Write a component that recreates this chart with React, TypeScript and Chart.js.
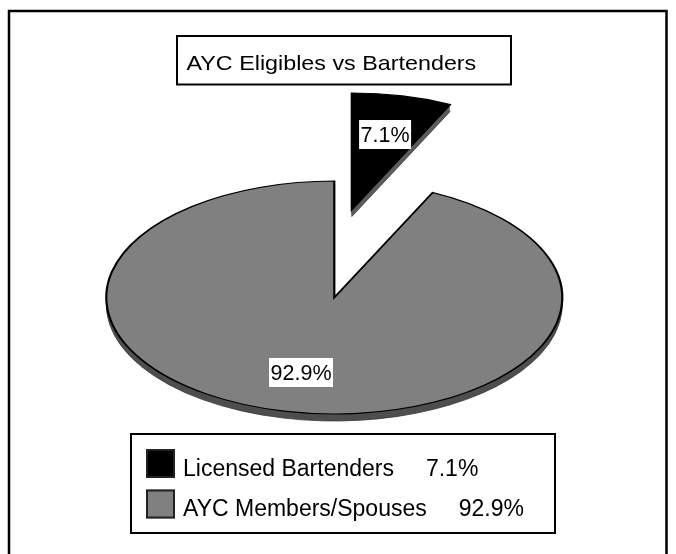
import React, { useEffect, useRef } from 'react';
import { Chart, registerables } from 'chart.js';

Chart.register(...registerables);

// ---- data ----
const TITLE = 'AYC Eligibles vs Bartenders';
const CATEGORIES = ['Licensed Bartenders', 'AYC Members/Spouses'];
const VALUES = [7.1, 92.9];
const VALUE_LABELS = ['7.1%', '92.9%'];
const LEGEND_GAPS = ['     ', '     '];

// ---- styles ----
const COLORS = ['#000000', '#808080'];
const RIM_COLORS = ['#5c5c5c', '#4f4f4f'];
const FONT = "'Liberation Sans', Arial, Helvetica, sans-serif";
const TILT = 0.511;
const DEPTH = 7;
const EXPLODE = [
  { dx: 17.5, dy: -88 },
  { dx: 0, dy: 0 },
];
const LABEL_R = 0.66;

function drawArcWith(ctx: CanvasRenderingContext2D, arc: any, dx: number, dy: number, override: any) {
  const saved = arc.options;
  arc.options = Object.assign({}, saved, override);
  const cx = arc.x;
  const cy = arc.y;
  ctx.save();
  ctx.translate(cx + dx, cy + dy);
  ctx.scale(1, TILT);
  ctx.translate(-cx, -cy);
  arc.draw(ctx);
  ctx.restore();
  arc.options = saved;
}

function text(ctx: CanvasRenderingContext2D, s: string, x: number, y: number, size: number, sx: number) {
  ctx.save();
  ctx.font = `${size}px ${FONT}`;
  ctx.fillStyle = '#000';
  ctx.textBaseline = 'alphabetic';
  ctx.textAlign = 'left';
  ctx.translate(x, y);
  ctx.scale(sx, 1);
  ctx.fillText(s, 0, 0);
  const w = ctx.measureText(s).width * sx;
  ctx.restore();
  return w;
}

const pie3d = {
  id: 'pie3d',
  beforeDraw(chart: any) {
    const ctx = chart.ctx as CanvasRenderingContext2D;
    ctx.save();
    ctx.fillStyle = '#fff';
    ctx.fillRect(0, 0, chart.width, chart.height);
    // outer frame
    ctx.strokeStyle = '#000';
    ctx.lineWidth = 2.5;
    ctx.beginPath();
    ctx.moveTo(9, chart.height + 5);
    ctx.lineTo(9, 11);
    ctx.lineTo(666.5, 11);
    ctx.lineTo(666.5, chart.height + 5);
    ctx.stroke();
    ctx.restore();
  },
  beforeDatasetsDraw(chart: any) {
    const ctx = chart.ctx as CanvasRenderingContext2D;
    const arcs = chart.getDatasetMeta(0).data;
    // rims
    arcs.forEach((arc: any, i: number) => {
      const e = EXPLODE[i];
      for (let d = DEPTH; d >= 1; d--) {
        drawArcWith(ctx, arc, e.dx, e.dy + d, {
          backgroundColor: RIM_COLORS[i],
          borderWidth: d === DEPTH ? 1 : 0,
          borderColor: '#333',
        });
      }
    });
    // top faces
    arcs.forEach((arc: any, i: number) => {
      const e = EXPLODE[i];
      drawArcWith(ctx, arc, e.dx, e.dy, {});
    });
    // value labels
    arcs.forEach((arc: any, i: number) => {
      const e = EXPLODE[i];
      const a = (arc.startAngle + arc.endAngle) / 2;
      const r = arc.outerRadius * LABEL_R;
      const x = arc.x + Math.cos(a) * r + e.dx;
      const y = arc.y + Math.sin(a) * r * TILT + e.dy;
      const size = 21.5;
      ctx.save();
      ctx.font = `${size}px ${FONT}`;
      const w = ctx.measureText(VALUE_LABELS[i]).width;
      ctx.fillStyle = '#fff';
      ctx.fillRect(x - w / 2 - 1.5, y - 14.5, w + 3, 29);
      ctx.restore();
      text(ctx, VALUE_LABELS[i], x - w / 2, y + 7.8, size, 1);
    });
    return false;
  },
  afterDraw(chart: any) {
    const ctx = chart.ctx as CanvasRenderingContext2D;
    const ds = chart.data.datasets[0];
    ctx.save();
    ctx.strokeStyle = '#000';
    ctx.lineWidth = 2;
    // title box
    ctx.fillStyle = '#fff';
    ctx.fillRect(177, 36, 334, 48.5);
    ctx.strokeRect(177, 36, 334, 48.5);
    ctx.restore();
    text(ctx, TITLE, 186.5, 69.8, 21, 1.11);

    // legend box
    ctx.save();
    ctx.strokeStyle = '#000';
    ctx.lineWidth = 2;
    ctx.fillStyle = '#fff';
    ctx.fillRect(131, 434, 424, 99);
    ctx.strokeRect(131, 434, 424, 99);
    ctx.restore();
    (chart.data.labels as string[]).forEach((lab, i) => {
      const top = 449 + i * 40.5;
      ctx.save();
      ctx.fillStyle = ds.backgroundColor[i];
      ctx.fillRect(146, top, 29, 29);
      ctx.strokeStyle = '#222';
      ctx.lineWidth = 2;
      ctx.strokeRect(147, top + 1, 27, 27);
      ctx.restore();
      text(ctx, lab + LEGEND_GAPS[i] + VALUE_LABELS[i], 183, 475.7 + i * 40, 23, 1.0);
    });
  },
};

export default function App() {
  const ref = useRef<HTMLCanvasElement>(null);
  useEffect(() => {
    const chart = new Chart(ref.current as HTMLCanvasElement, {
      type: 'pie',
      data: {
        labels: CATEGORIES,
        datasets: [
          {
            data: VALUES,
            backgroundColor: COLORS,
            borderColor: '#000',
            borderWidth: 2.2,
            borderJoinStyle: 'miter',
            radius: 228,
          } as any,
        ],
      },
      options: {
        responsive: false,
        animation: false,
        events: [],
        layout: { padding: { left: 100, right: 107.4, top: 60, bottom: 19 } },
        plugins: {
          legend: { display: false },
          tooltip: { enabled: false },
          title: { display: false },
        },
      } as any,
      plugins: [pie3d as any],
    });
    return () => chart.destroy();
  }, []);
  return (
    <div style={{ position: 'fixed', left: 0, top: 0, width: 676, height: 554, background: '#fff' }}>
      <canvas ref={ref} width={676} height={554} style={{ display: 'block' }} />
    </div>
  );
}
